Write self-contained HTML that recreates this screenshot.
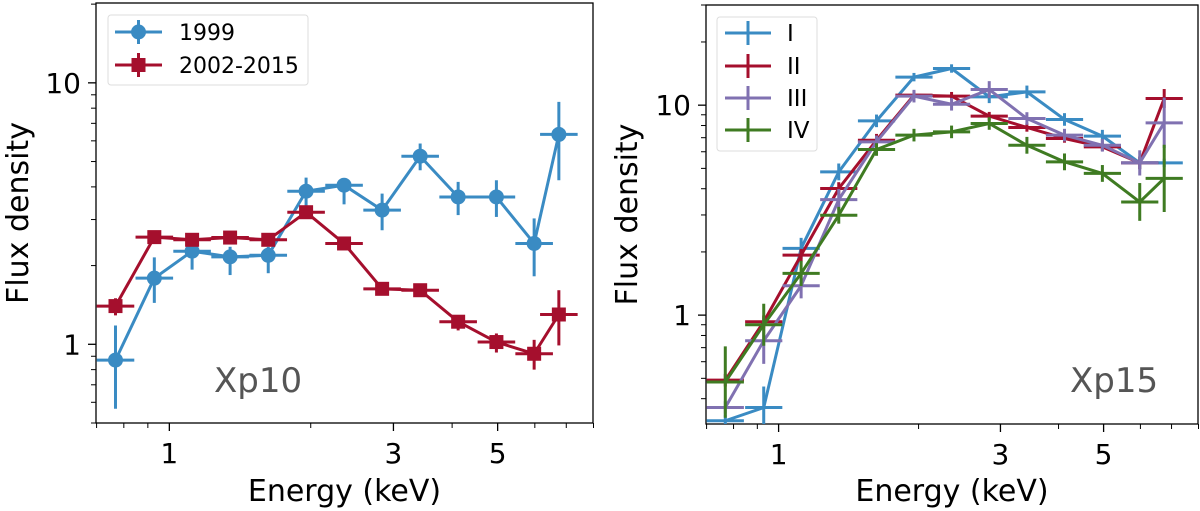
<!DOCTYPE html>
<html><head><meta charset="utf-8"><style>
html,body{margin:0;padding:0;background:#fff;}
svg{display:block;font-family:"DejaVu Sans","Liberation Sans",sans-serif;}
</style></head><body>
<svg id="chart" width="1200" height="511" viewBox="0 0 1200 511"></svg>
<script>
// ---- data ----
const energies = [0.768,0.929,1.118,1.347,1.624,1.955,2.355,2.838,3.42,4.12,4.97,5.98,6.75];
const xerrDex = 0.04;
// Left panel (Xp10)
const y1999 = [0.87,1.79,2.27,2.16,2.19,3.85,4.06,3.26,5.24,3.66,3.66,2.43,6.35];
const y1999Lo = [0.567,1.44,1.93,1.84,1.87,3.37,3.43,2.73,4.63,3.12,3.07,1.82,4.24];
const y1999Hi = [1.18,2.15,2.50,2.36,2.36,4.34,4.31,3.77,5.86,4.18,4.24,3.03,8.46];
const y2002 = [1.40,2.57,2.51,2.56,2.51,3.2,2.43,1.63,1.61,1.22,1.02,0.92,1.30];
const y2002Lo = [1.29,2.45,2.40,2.44,2.40,3.05,2.32,1.56,1.54,1.13,0.93,0.80,0.99];
const y2002Hi = [1.50,2.69,2.62,2.68,2.62,3.35,2.55,1.70,1.68,1.29,1.10,1.04,1.61];
// Right panel (Xp15)
const yI   = [0.314,0.363,2.08,4.81,8.42,13.6,14.95,10.96,11.57,8.55,7.12,5.31,5.31];
const yII  = [0.49,0.93,1.93,4.01,6.81,11.16,11.04,8.87,7.83,6.94,6.33,5.31,10.76];
const yIII = [0.363,0.755,1.38,3.55,6.69,11.04,10.1,11.87,8.64,7.2,6.44,5.31,8.24];
const yIV  = [0.48,0.90,1.58,2.99,6.15,7.20,7.46,8.18,6.44,5.37,4.73,3.46,4.48];
const eI   = [0.03,0.10,0.05,0.04,0.03,0.02,0.02,0.03,0.03,0.03,0.03,0.03,0.02];
const eII  = [0.03,0.03,0.03,0.03,0.03,0.02,0.02,0.02,0.02,0.02,0.02,0.03,0.045];
const eIII = [0.03,0.11,0.06,0.05,0.03,0.03,0.03,0.04,0.03,0.03,0.03,0.06,0.12];
const eIV  = [0.17,0.10,0.06,0.04,0.03,0.03,0.03,0.03,0.04,0.04,0.04,0.09,0.16];
const xTicks = [1,3,5];
const xMinor = [0.7,0.8,0.9,2,4,6,7,8];
const yTicks = [1,10];

const NS="http://www.w3.org/2000/svg";
const svg=document.getElementById('chart');
function mk(tag,attrs,parent){const e=document.createElementNS(NS,tag);for(const k in attrs)e.setAttribute(k,attrs[k]);(parent||svg).appendChild(e);return e;}
const BLUE="#3a8bc3",RED="#a50f2d",PURP="#8071b1",GREEN="#3f7b22";
const LW=3;

function makeAxes(cfg){
  const g=mk('g',{});
  
  
  const lx0=Math.log10(0.698),lx1=Math.log10(7.98);
  const ly0=Math.log10(cfg.ymin),ly1=Math.log10(cfg.ymax);
  const X=v=>cfg.x0+(Math.log10(v)-lx0)/(lx1-lx0)*(cfg.x1-cfg.x0);
  const Y=v=>cfg.y1-(Math.log10(v)-ly0)/(ly1-ly0)*(cfg.y1-cfg.y0);
  xTicks.forEach(t=>{
    const l=mk('line',{x1:X(t),x2:X(t),y1:cfg.y1,y2:cfg.y1+8,stroke:'#000','stroke-width':1.3},g);
    
    const tx=mk('text',{x:X(t),y:cfg.y1+40,'text-anchor':'middle','font-size':28},g);tx.textContent=t;
    
  });
  xMinor.forEach(t=>{
    const l=mk('line',{x1:X(t),x2:X(t),y1:cfg.y1,y2:cfg.y1+5,stroke:'#000','stroke-width':1},g);
    
  });
  for(let d=-1;d<=1;d++){for(let m=1;m<10;m++){const v=m*Math.pow(10,d);
    if(v<cfg.ymin*0.999||v>cfg.ymax*1.001)continue;
    const major=(m===1);
    const l=mk('line',{x1:cfg.x0,x2:cfg.x0-(major?8:5),y1:Y(v),y2:Y(v),stroke:'#000','stroke-width':major?1.3:1},g);
    
  }}
  yTicks.forEach(t=>{
    const tx=mk('text',{x:cfg.x0-15,y:Y(t)+10,'text-anchor':'end','font-size':28},g);tx.textContent=t;
    
  });
  const fr=mk('rect',{x:cfg.x0,y:cfg.y0,width:cfg.x1-cfg.x0,height:cfg.y1-cfg.y0,fill:'none',stroke:'#000','stroke-width':1.3},g);
  
  const xl=mk('text',{x:(cfg.x0+cfg.x1)/2,y:501,'text-anchor':'middle','font-size':30},g);xl.textContent='Energy (keV)';
  
  const yx=cfg.ylabX, yy=(cfg.y0+cfg.y1)/2;
  const yl=mk('text',{x:yx,y:yy,'text-anchor':'middle','font-size':30,transform:`rotate(-90 ${yx} ${yy})`},g);yl.textContent='Flux density';
  
  const clip=mk('clipPath',{id:cfg.name+'-clip'},g);
  mk('rect',{x:cfg.x0,y:cfg.y0,width:cfg.x1-cfg.x0,height:cfg.y1-cfg.y0},clip);
  const plot=mk('g',{'clip-path':`url(#${cfg.name}-clip)`},g);
  
  return {g,plot,X,Y};
}

function series(ax,name,color,ys,lo,hi,marker){
  const sg=mk('g',{},ax.plot);
  
  
  const pts=energies.map((e,i)=>ax.X(e)+','+ax.Y(ys[i])).join(' ');
  const pl=mk('polyline',{points:pts,fill:'none',stroke:color,'stroke-width':LW,'stroke-linejoin':'round'},sg);
  
  energies.forEach((e,i)=>{
    const f=Math.pow(10,xerrDex);
    const h=mk('line',{x1:ax.X(e/f),x2:ax.X(e*f),y1:ax.Y(ys[i]),y2:ax.Y(ys[i]),stroke:color,'stroke-width':LW},sg);
    
    const v=mk('line',{x1:ax.X(e),x2:ax.X(e),y1:ax.Y(lo[i]),y2:ax.Y(hi[i]),stroke:color,'stroke-width':LW},sg);
    
    if(marker==='o'){
      const c=mk('circle',{cx:ax.X(e),cy:ax.Y(ys[i]),r:7.5,fill:color},sg);
      
    }else if(marker==='s'){
      const s=mk('rect',{x:ax.X(e)-7,y:ax.Y(ys[i])-7,width:14,height:14,fill:color},sg);
      
    }
  });
}
function dexLoHi(ys,e){return [ys.map((y,i)=>y/Math.pow(10,e[i])),ys.map((y,i)=>y*Math.pow(10,e[i]))];}

const A=makeAxes({name:'panel-xp10',x0:96,x1:593,y0:3,y1:423,ymin:0.5,ymax:20.2,ylabX:28});
series(A,'series-1999',BLUE,y1999,y1999Lo,y1999Hi,'o');
series(A,'series-2002-2015',RED,y2002,y2002Lo,y2002Hi,'s');
const B=makeAxes({name:'panel-xp15',x0:706,x1:1198,y0:5,y1:424,ymin:0.303,ymax:30,ylabX:637});
[[ 'series-I',BLUE,yI,eI],['series-II',RED,yII,eII],['series-III',PURP,yIII,eIII],['series-IV',GREEN,yIV,eIV]].forEach(s=>{
  const [lo,hi]=dexLoHi(s[2],s[3]);series(B,s[0],s[1],s[2],lo,hi,null);
});
let t=mk('text',{x:214,y:392,'font-size':34,fill:'#555'});t.textContent='Xp10';

t=mk('text',{x:1070,y:392,'font-size':34,fill:'#555'});t.textContent='Xp15';


function legend(name,x,y,w,h,entries,textX,lineX0,lineX1,fs){
  const lg=mk('g',{});
  
  
  mk('rect',{x:x,y:y,width:w,height:h,rx:3,fill:'#fff','fill-opacity':0.85,stroke:'#ddd','stroke-width':1},lg);
  entries.forEach(en=>{
    const eg=mk('g',{},lg);
    
    
    const cy=en[3],cx=(lineX0+lineX1)/2;
    mk('line',{x1:lineX0,x2:lineX1,y1:cy,y2:cy,stroke:en[1],'stroke-width':LW},eg);
    mk('line',{x1:cx,x2:cx,y1:cy-12,y2:cy+12,stroke:en[1],'stroke-width':LW},eg);
    if(en[2]==='o')mk('circle',{cx:cx,cy:cy,r:7.5,fill:en[1]},eg);
    if(en[2]==='s')mk('rect',{x:cx-7,y:cy-7,width:14,height:14,fill:en[1]},eg);
    const tx=mk('text',{x:textX,y:cy+8,'font-size':fs},eg);tx.textContent=en[0];
  });
}
legend('legend-xp10',108,15,200,70,[['1999',BLUE,'o',32],['2002-2015',RED,'s',65]],179,115,162,22);
legend('legend-xp15',717,17,100,134,[['I',BLUE,null,33],['II',RED,null,66],['III',PURP,null,98],['IV',GREEN,null,130]],787,725,771,23);
</script>
</body></html>
